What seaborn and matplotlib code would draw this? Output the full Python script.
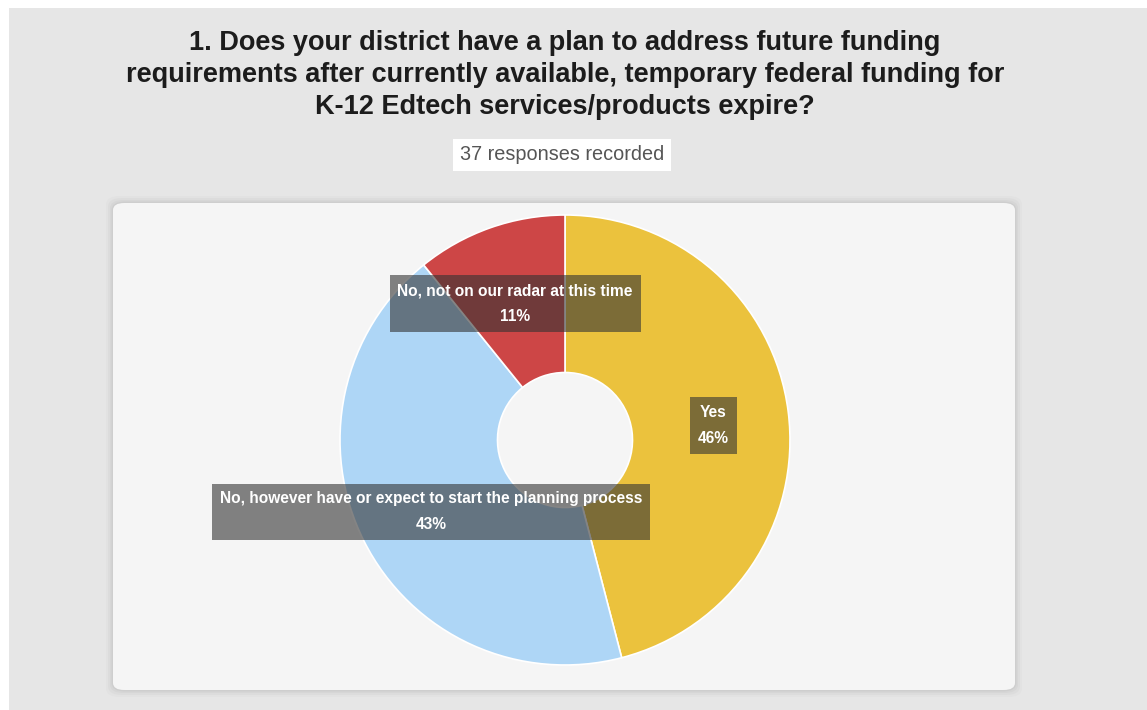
import matplotlib.pyplot as plt
import seaborn as sns
from matplotlib.patches import FancyBboxPatch, Rectangle
import numpy as np

sns.set_theme(style="white")
plt.rcParams["font.family"] = ["Liberation Sans", "DejaVu Sans"]

question = ("1. Does your district have a plan to address future funding\n"
            "requirements after currently available, temporary federal funding for\n"
            "K-12 Edtech services/products expire?")
answers = [
    "Yes",
    "No, however have or expect to start the planning process",
    "No, not on our radar at this time",
]
responses = [17, 16, 4]
slice_colors = ["#ebc23d", "#aed6f6", "#cd4646"]

W, H = 1147, 710


def px_box(x0, y0, x1, y1):
    """Convert a pixel box (top-left origin) to figure fractions."""
    return x0 / W, 1 - y1 / H, (x1 - x0) / W, (y1 - y0) / H


fig = plt.figure(figsize=(W / 100, H / 100), dpi=100)
fig.patch.set_facecolor("white")

# grey page background
bx, by, bw, bh = px_box(9, 8, W, H)
fig.patches.append(Rectangle((bx, by), bw, bh, transform=fig.transFigure,
                             facecolor="#e6e6e6", edgecolor="none", zorder=0))

# panel with soft shadow
for grow, alpha in [(7, 0.05), (5, 0.07), (3, 0.09), (1.5, 0.12)]:
    sx, sy, sw, sh = px_box(113 - grow, 203 - grow, 1015 + grow, 690 + grow)
    fig.patches.append(FancyBboxPatch((sx, sy), sw, sh, transform=fig.transFigure,
                                      boxstyle="round,pad=0,rounding_size=0.012",
                                      facecolor="#9a9a9a", edgecolor="none",
                                      alpha=alpha, zorder=1))
px0, py0, pw, ph = px_box(113, 203, 1015, 690)
fig.patches.append(FancyBboxPatch((px0, py0), pw, ph, transform=fig.transFigure,
                                  boxstyle="round,pad=0,rounding_size=0.01",
                                  facecolor="#f5f5f5", edgecolor="none", zorder=2))

# title and response count
fig.text(565 / W, 1 - 75 / H, question, ha="center", va="center", fontsize=19.5,
         fontweight="bold", color="#1c1c1c", linespacing=1.28)
total = sum(responses)
fig.text(562 / W, 1 - 155 / H, f"{total} responses recorded", ha="center", va="center",
         fontsize=14.3, color="#555555",
         bbox=dict(boxstyle="square,pad=0.33", facecolor="white", edgecolor="none"))

# donut chart, 225 px radius centred at (565, 440)
radius_px = 225
cx, cy = 565, 440
ax = fig.add_axes(px_box(113, 203, 1015, 690))
ax.set_facecolor("none")
ax.set_zorder(3)
ax.axis("off")

wedges, _ = ax.pie(responses, colors=slice_colors, startangle=90, counterclock=False,
                   radius=1, wedgeprops=dict(width=0.7, edgecolor="white", linewidth=1.2))
for w in wedges:
    w.set_clip_on(True)
ax.set_xlim(-(cx - 113) / radius_px, (1015 - cx) / radius_px)
ax.set_ylim(-(690 - cy) / radius_px, (cy - 203) / radius_px)
ax.set_aspect("auto")

for w, label, count in zip(wedges, answers, responses):
    mid = np.deg2rad((w.theta1 + w.theta2) / 2)
    x, y = 0.665 * np.cos(mid), 0.665 * np.sin(mid) - 0.02
    ax.text(x, y, f"{label}\n{round(100 * count / total)}%", ha="center", va="center",
            fontsize=11.2, fontweight="bold", color="white", linespacing=1.9,
            bbox=dict(boxstyle="square,pad=0.5", facecolor="#333333", alpha=0.6,
                      edgecolor="none"))

fig.savefig("out.png", dpi=100)
